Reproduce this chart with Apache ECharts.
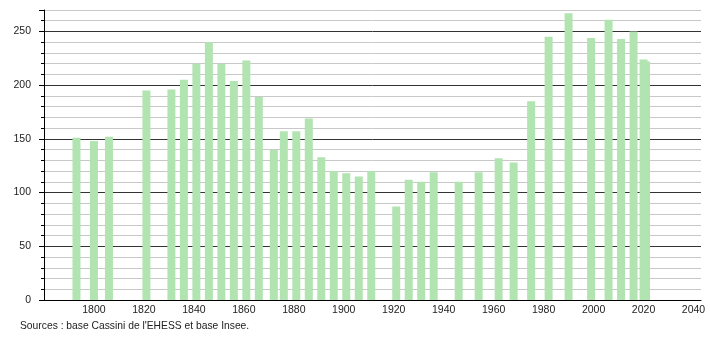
<!DOCTYPE html>
<html>
<head>
<meta charset="utf-8">
<script src="https://cdn.jsdelivr.net/npm/echarts@6/dist/echarts.min.js"></script>
<style>
html,body{margin:0;padding:0;background:#fff;}
#c{width:710px;height:340px;}
</style>
</head>
<body>
<div id="c"></div>
<script>
const years = [1793,1800,1806,1821,1831,1836,1841,1846,1851,1856,1861,1866,1872,1876,1881,1886,1891,1896,1901,1906,1911,1921,1926,1931,1936,1946,1954,1962,1968,1975,1982,1990,1999,2006,2011,2016,2020,2021];
const population = [151,148,152,195,196,205,220,240,220,204,223,189,140,157,157,169,133,120,118,115,120,87,112,110,119,110,119,132,128,185,245,267,244,261,243,250,224,222];
const yTickLabels = [0,50,100,150,200,250];
const xTickLabels = [1800,1820,1840,1860,1880,1900,1920,1940,1960,1980,2000,2020,2040];
const sourceText = "Sources : base Cassini de l'EHESS et base Insee.";

const chart = echarts.init(document.getElementById('c'), null, {renderer:'canvas'});
const font = 'Liberation Sans, Arial, sans-serif';
chart.setOption({
  animation:false,
  backgroundColor:'#fff',
  grid:{left:44,right:9,top:10,bottom:40,containLabel:false},
  xAxis:{
    type:'value', min:1780, max:2043, interval:20,
    axisLine:{show:true,lineStyle:{color:'#000',width:1}},
    axisTick:{show:false},
    splitLine:{show:false},
    axisLabel:{
      margin:5, color:'#222', fontFamily:font, fontSize:10.5,
      showMinLabel:false, showMaxLabel:false,
      formatter:v=>xTickLabels.includes(v)?String(v):''
    }
  },
  yAxis:[{
    type:'value', min:0, max:270, interval:10,
    axisLine:{show:true,lineStyle:{color:'#000',width:1}},
    axisTick:{show:true,length:3,lineStyle:{color:'#000'}},
    splitLine:{show:true,lineStyle:{color:['#333','#c8c8c8','#c8c8c8','#c8c8c8','#c8c8c8'],width:1}},
    axisLabel:{
      margin:13, color:'#222', fontFamily:font, fontSize:10.5,
      formatter:v=>yTickLabels.includes(v)?String(v):''
    }
  },{
    type:'value', min:0, max:270, interval:50, position:'left',
    axisLine:{show:false},
    axisTick:{show:true,length:5,lineStyle:{color:'#000'}},
    splitLine:{show:false},
    axisLabel:{show:false}
  }],
  series:[{
    type:'bar',
    barWidth:8,
    itemStyle:{color:'#b2e4b2'},
    data:years.map((y,i)=>[y,population[i]])
  }],
  graphic:[{
    type:'text', left:20, top:321,
    style:{text:sourceText, fill:'#222', font:'10.3px '+font}
  }]
});
</script>
</body>
</html>
